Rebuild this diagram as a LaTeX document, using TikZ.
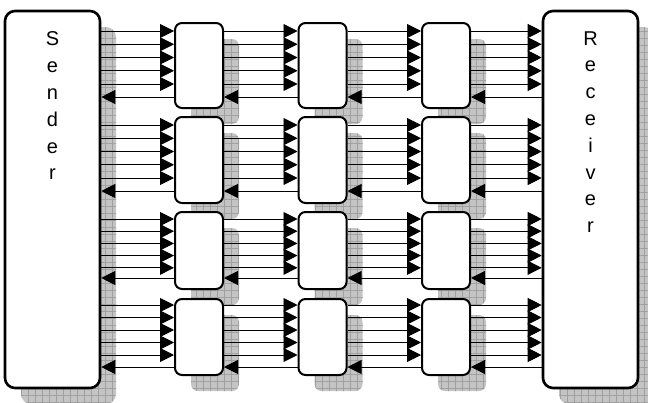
\documentclass[tikz,border=0pt]{standalone}
\usepackage{fontspec}
\setmainfont{Liberation Sans}
\usetikzlibrary{arrows.meta,patterns.meta}
\definecolor{shadowgray}{RGB}{196,196,196}
\definecolor{gridgray}{RGB}{160,160,160}

\begin{document}
\begin{tikzpicture}[x=1pt, y=-1pt,
  castshadow/.style={
    preaction={fill=shadowgray, transform canvas={shift={(16pt,-16pt)}}},
    preaction={pattern={Hatch[distance=7pt, line width=.4pt]}, pattern color=gridgray,
               transform canvas={shift={(16pt,-16pt)}}}},
  endbox/.style={draw, line width=2.6pt, rounded corners=10pt, fill=white, castshadow,
                 minimum width=95pt, minimum height=377pt, inner sep=0pt},
  cell/.style={draw, line width=2pt, rounded corners=7pt, fill=white, castshadow,
               minimum width=48pt, inner sep=0pt},
  vtext/.style={align=center, inner sep=0pt, font=\fontsize{20}{26.8}\selectfont},
  fwd/.style={-{Triangle[length=14pt, width=14pt]}, line width=.9pt},
  back/.style={{Triangle[length=14pt, width=14pt]}-, line width=.9pt}]
  \useasboundingbox (0,0) rectangle (648,402);

  % end points
  \node[endbox] (sender) at (52.5,199.5) {};
  \node[endbox] (receiver) at (590.5,199.5) {};
  \node[vtext, anchor=north] (sendtxt) at ([yshift=-22pt]sender.north) {S\\e\\n\\d\\e\\r};
  \node[vtext, anchor=north] (recvtxt) at ([yshift=-21.5pt]receiver.north) {R\\e\\c\\e\\i\\v\\e\\r};

  % stages, row by row
  \foreach \r/\top/\h in {1/23/85, 2/117/86, 3/212/77, 4/299/76}
    \foreach \c/\x in {1/199, 2/322.5, 3/446}
      \node[cell, minimum height=\h pt] (b\r\c) at (\x,{\top+\h/2}) {};

  % links: five forward lines and one return line per hop
  \foreach \r/\first/\sp/\ret in {1/31/13.25/97, 2/125/13.25/191, 3/219/12.2/278, 4/305/12.5/367}
    \foreach \a/\b in {sender/b\r1, b\r1/b\r2, b\r2/b\r3, b\r3/receiver}{
      \foreach \k [evaluate=\k as \yy using \first+\k*\sp] in {0,...,4}
        \draw[fwd] (\a.east |- 0,\yy) -- (\b.west |- 0,\yy);
      \draw[back] (\a.east |- 0,\ret) -- (\b.west |- 0,\ret);
    }
\end{tikzpicture}
\end{document}
